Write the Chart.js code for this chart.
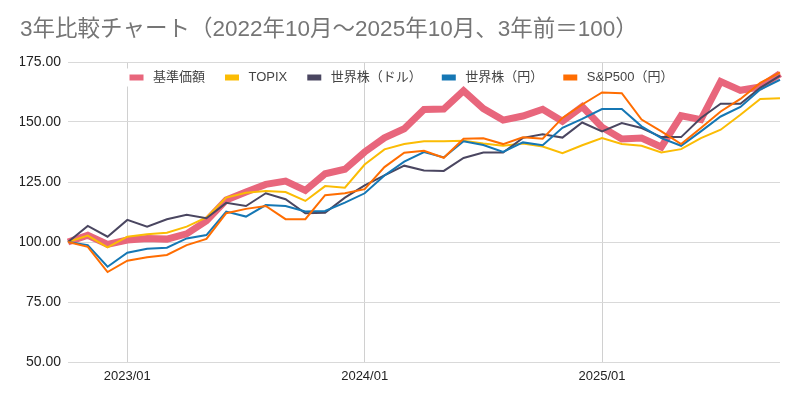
<!DOCTYPE html>
<html>
<head>
<meta charset="utf-8">
<script src="https://cdn.jsdelivr.net/npm/chart.js@4.4.1/dist/chart.umd.min.js"></script>
<style>
  html, body { margin: 0; padding: 0; background: #fff; }
  #wrap { width: 800px; height: 403px; }
</style>
</head>
<body>
<div id="wrap"><canvas id="grafico"></canvas></div>
<script>
// 月次ラベル 2022/10 〜 2025/10
const meses = [
  '2022/10','2022/11','2022/12',
  '2023/01','2023/02','2023/03','2023/04','2023/05','2023/06','2023/07','2023/08','2023/09','2023/10','2023/11','2023/12',
  '2024/01','2024/02','2024/03','2024/04','2024/05','2024/06','2024/07','2024/08','2024/09','2024/10','2024/11','2024/12',
  '2025/01','2025/02','2025/03','2025/04','2025/05','2025/06','2025/07','2025/08','2025/09','2025/10'
];
const etiquetasX = ['2023/01', '2024/01', '2025/01'];

const kijun = [100, 102.8, 99, 100.8, 101.5, 101.2, 103.4, 108.8, 117.5, 120.8, 124, 125.4, 121.5, 128.4, 130.3,
  137.5, 143.4, 147.2, 155.2, 155.4, 163, 155.6, 150.8, 152.5, 155.3, 150.3, 156.4,
  147.8, 142.9, 143.3, 139.6, 152.6, 151, 166.9, 163.2, 164.6, 170.1];
const topix = [100, 102.7, 97.8, 102.2, 103.2, 103.9, 106.4, 110.2, 118.5, 120.5, 121.2, 120.8, 117.1, 123.3, 122.6,
  132.3, 138.6, 140.8, 142, 142, 142.2, 141, 140.1, 141, 139.8, 137, 140.3,
  143.3, 140.8, 140.1, 137.3, 138.7, 143.3, 146.8, 153, 159.6, 159.9];
const sekaiDoru = [100, 106.7, 102.2, 109.2, 106.4, 109.5, 111.3, 109.9, 116.3, 115, 120.3, 117.8, 112, 112.2, 118.5,
  123.6, 127.8, 131.8, 129.8, 129.6, 135, 137.3, 137.3, 143.4, 144.9, 143.5, 149.8,
  146.1, 149.6, 147.5, 143.7, 143.7, 151.7, 157.6, 157.6, 164.2, 169.3];
const sekaiEn = [100, 98.7, 89.7, 95.5, 97.2, 97.6, 101.5, 102.9, 112.7, 110.6, 115.4, 115, 112.7, 112.9, 116.4,
  120.3, 127.7, 133.5, 137.5, 135.2, 142, 140.4, 137.5, 141.5, 140.3, 147.6, 151.3,
  155.4, 155.4, 148.2, 143.3, 140.1, 146.1, 152.3, 156.3, 163.5, 167.6];
const sp500En = [100, 98, 87.5, 92.2, 93.6, 94.6, 98.7, 101.3, 112, 113.8, 115, 109.5, 109.5, 119.5, 120.3,
  122, 131.2, 137.2, 138, 135.1, 143, 143.2, 140.8, 143.6, 143, 151.7, 157.3,
  162.3, 162, 151, 146.1, 140.8, 147.5, 154.4, 159.6, 166.3, 170.7];

const fuente = "'Liberation Sans', 'Noto Sans CJK JP', Arial, sans-serif";

function serie(label, data, color, ancho, orden) {
  return {
    label: label,
    data: data,
    borderColor: color,
    backgroundColor: color,
    borderWidth: ancho,
    pointRadius: 0,
    tension: 0,
    fill: false,
    order: orden
  };
}

// el legend se dibuja encima del área del gráfico: se le recorta la altura
// y se dibuja sin recorte
const leyendaEncima = {
  id: 'leyendaEncima',
  beforeLayout(chart) {
    const lg = chart.legend;
    if (!lg || lg._recortada) return;
    const fitOriginal = lg.fit;
    lg.fit = function () {
      fitOriginal.call(this);
      this.height = 8;
    };
    lg.draw = function () {
      if (this.options.display) this._draw();
    };
    lg._recortada = true;
  }
};

new Chart(document.getElementById('grafico'), {
  type: 'line',
  data: {
    labels: meses,
    datasets: [
      serie('基準価額', kijun, '#e8667c', 7, 5),
      serie('TOPIX', topix, '#fbbc04', 2, 4),
      serie('世界株（ドル）', sekaiDoru, '#4a4660', 2, 3),
      serie('世界株（円）', sekaiEn, '#1577b4', 2, 2),
      serie('S&P500（円）', sp500En, '#ff6d01', 2, 1)
    ]
  },
  plugins: [leyendaEncima],
  options: {
    responsive: true,
    maintainAspectRatio: false,
    animation: false,
    layout: { padding: { left: 20, right: 20, top: 0, bottom: 0 } },
    plugins: {
      title: {
        display: true,
        text: '3年比較チャート（2022年10月～2025年10月、3年前＝100）',
        align: 'start',
        color: '#757575',
        font: { family: fuente, size: 22.5, weight: 'normal' },
        padding: { top: 16, bottom: 11 }
      },
      legend: {
        position: 'top',
        align: 'center',
        labels: {
          color: '#444',
          font: { family: fuente, size: 13 },
          boxWidth: 20,
          boxHeight: 12,
          padding: 17,
          sort: (a, b) => a.datasetIndex - b.datasetIndex,
          // caja de 14x6 visible: borde blanco ancho alrededor
          generateLabels: (chart) => {
            const items = Chart.defaults.plugins.legend.labels.generateLabels(chart);
            items.forEach((it) => {
              it.lineWidth = 6;
              it.strokeStyle = '#ffffff';
            });
            return items;
          }
        }
      },
      tooltip: { enabled: false }
    },
    scales: {
      x: {
        offset: false,
        border: { display: false },
        afterFit: (s) => { s.height = 41; },
        grid: {
          drawTicks: false,
          color: (ctx) => etiquetasX.includes(meses[ctx.index]) ? '#d0d0d0' : 'rgba(0,0,0,0)'
        },
        ticks: {
          autoSkip: false,
          maxRotation: 0,
          padding: 7,
          color: '#222',
          font: { family: fuente, size: 13 },
          callback: function (v, i) {
            return etiquetasX.includes(meses[i]) ? meses[i] : '';
          }
        }
      },
      y: {
        min: 50,
        max: 175,
        border: { display: false },
        afterFit: (s) => { s.width = 48; },
        grid: { color: '#d9d9d9', drawTicks: false },
        ticks: {
          stepSize: 25,
          padding: 7,
          color: '#222',
          font: { family: fuente, size: 14 },
          callback: (v) => v.toFixed(2)
        }
      }
    }
  }
});
</script>
</body>
</html>
